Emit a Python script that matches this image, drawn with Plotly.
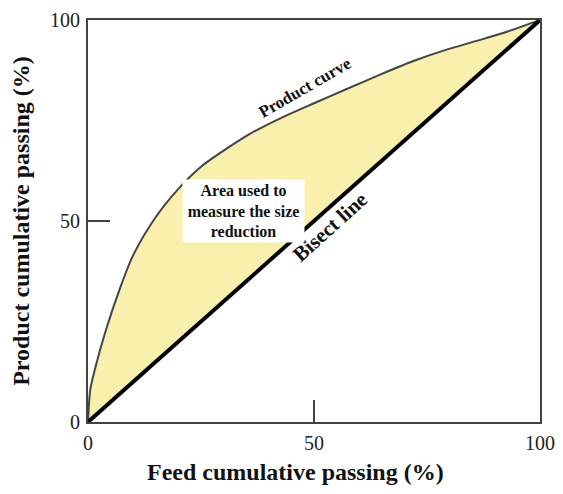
import plotly.graph_objects as go

feed = [0, 0.5, 1.5, 4, 7, 10, 15, 20, 25, 30, 36, 43, 50, 58, 65, 72, 79, 86, 93, 100]
product = [0, 8, 13, 23, 33, 41.5, 51, 58, 63.5, 67.5, 71.8, 75.8, 79.3, 83.2, 86.6, 89.8, 92.5, 94.8, 97.2, 100]
bisect_x = [0, 100]
bisect_y = [0, 100]
tick_vals = [0, 50, 100]
tick_text = ["0", "50", "100"]

serif = "Liberation Serif, Times New Roman, serif"

fig = go.Figure()
fig.add_trace(go.Scatter(x=bisect_x, y=bisect_y, mode="lines",
                         line=dict(width=0, color="rgba(0,0,0,0)"), showlegend=False, hoverinfo="skip"))
fig.add_trace(go.Scatter(x=feed, y=product, mode="lines",
                         line=dict(color="#444444", width=2, shape="spline", smoothing=0.8),
                         fill="tonexty", fillcolor="#f8f0ac", showlegend=False))
fig.add_trace(go.Scatter(x=bisect_x, y=bisect_y, mode="lines",
                         line=dict(color="#000000", width=4), showlegend=False))

fig.add_annotation(x=48, y=83.3, text="<b>Product curve</b>", showarrow=False, textangle=-30,
                   font=dict(family=serif, size=17, color="#111"))
fig.add_annotation(x=53.5, y=48.6, text="<b>Bisect line</b>", showarrow=False, textangle=-42,
                   font=dict(family=serif, size=21, color="#111"))
fig.add_annotation(x=34.3, y=52.6, text="<b>Area used to<br>measure the size<br>reduction</b>", showarrow=False,
                   bgcolor="white", width=119, height=60,
                   font=dict(family=serif, size=16, color="#111"))
fig.add_annotation(xref="paper", yref="paper", x=0.46, y=0, yanchor="middle", xanchor="center", yshift=-50,
                   text="<b>Feed cumulative passing (%)</b>", showarrow=False,
                   font=dict(family=serif, size=24, color="#111"))

axis_common = dict(range=[0, 100], tickvals=tick_vals, ticktext=tick_text, ticks="inside", ticklen=22,
                   tickwidth=2, tickcolor="#444", showline=True, linecolor="#444", linewidth=2, mirror=True,
                   showgrid=False, zeroline=False, automargin=False, ticklabeloverflow="allow",
                   ticklabelstandoff=2,
                   tickfont=dict(family=serif, size=20, color="#222"))

fig.update_xaxes(**axis_common)
fig.update_yaxes(**axis_common, title=dict(text="<b>Product cumulative passing (%)</b>",
                                           font=dict(family=serif, size=24, color="#111"), standoff=25))

fig.update_layout(width=555, height=486, margin=dict(l=80, r=23, t=12, b=72),
                  plot_bgcolor="white", paper_bgcolor="white")

fig.write_html("out.html")
